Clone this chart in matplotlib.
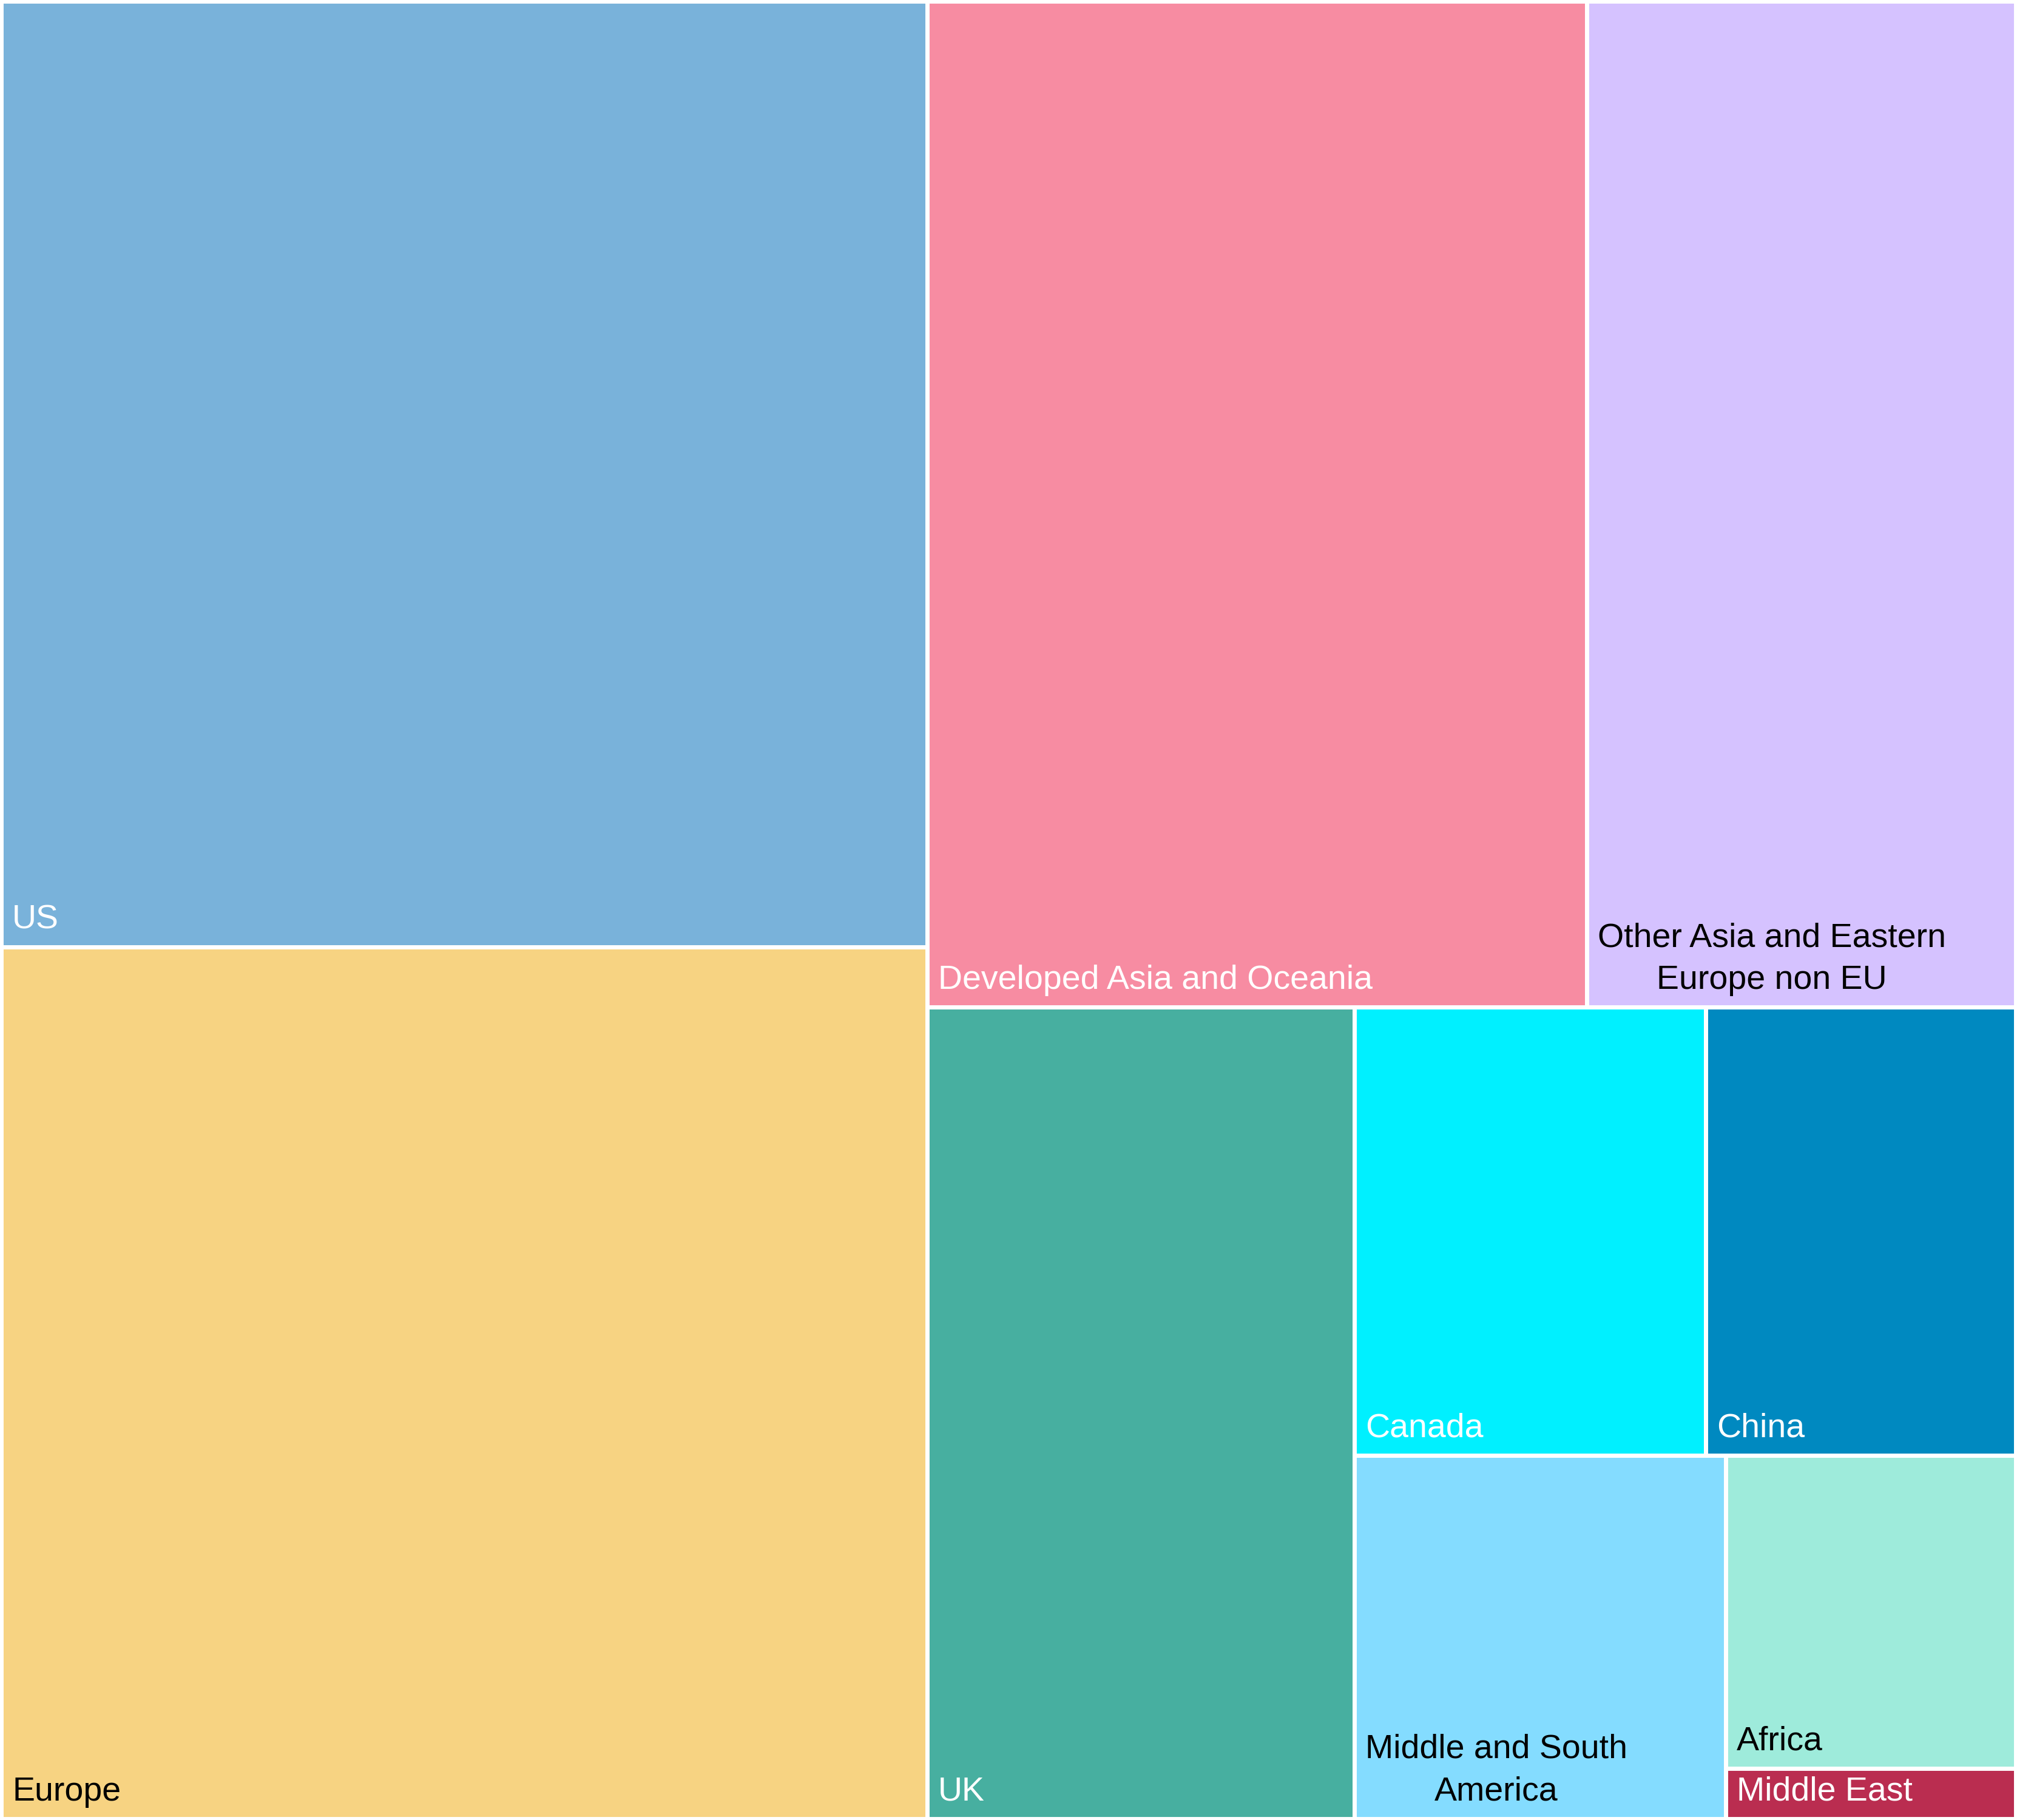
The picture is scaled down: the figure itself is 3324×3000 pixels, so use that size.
import matplotlib
matplotlib.use('Agg')
import matplotlib.pyplot as plt
from matplotlib.patches import Rectangle

# доли регионов, %
regions = ['US', 'Europe', 'Developed Asia and Oceania', 'Other Asia and Eastern\nEurope non EU',
           'UK', 'Canada', 'China', 'Middle and South\nAmerica', 'Africa', 'Middle East']
shares = [23.91, 22.04, 18.13, 11.79, 9.47, 4.30, 3.79, 3.69, 2.48, 0.40]
colors = ['#79b2da', '#f7d382', '#f78ca2', '#d5c2ff', '#47afa0',
          '#00f0ff', '#0089c0', '#84dcff', '#9eebdb', '#ba2d50']
text_colors = ['white', 'black', 'white', 'black', 'white',
               'white', 'white', 'black', 'black', 'white']

W, H = 3324, 3000
PHI = (1 + 5 ** 0.5) / 2


def squarify(values, x0, y0, x1, y1, ratio=PHI):
    # squarify: прямоугольники тянутся вверх (h/w ~ ratio)
    rects = []
    value = float(sum(values))
    n = len(values)
    i0 = i1 = 0
    while i0 < n:
        dx, dy = x1 - x0, y1 - y0
        if dx < dy:
            alpha = (dy / dx) / (value * ratio)
        else:
            alpha = (dx / dy) * ratio / value
        sum_v = values[i1]
        i1 += 1
        min_v = max_v = sum_v
        beta = sum_v * sum_v * alpha
        min_ratio = max(max_v / beta, beta / min_v)
        while i1 < n:
            v = values[i1]
            sum_v += v
            min_v = min(min_v, v)
            max_v = max(max_v, v)
            beta = sum_v * sum_v * alpha
            new_ratio = max(max_v / beta, beta / min_v)
            if new_ratio > min_ratio:
                sum_v -= v
                break
            min_ratio = new_ratio
            i1 += 1
        row = values[i0:i1]
        if dx < dy:
            # ряд сверху
            h = dy * sum_v / value
            cx = x0
            for v in row:
                w = dx * v / sum_v
                rects.append((cx, y0, w, h))
                cx += w
            y0 += h
        else:
            # столбец слева
            w = dx * sum_v / value
            cy = y0
            for v in row:
                h = dy * v / sum_v
                rects.append((x0, cy, w, h))
                cy += h
            x0 += w
        value -= sum_v
        i0 = i1
    return rects


rects = squarify(shares, 0, 0, W, H)

fig = plt.figure(figsize=(W / 100, H / 100), dpi=100)
ax = fig.add_axes([0, 0, 1, 1])
ax.set_xlim(-2, W + 2)
ax.set_ylim(H + 2, -2)
ax.axis('off')

for (x, y, w, h), name, c, tc in zip(rects, regions, colors, text_colors):
    ax.add_patch(Rectangle((x, y), w, h, facecolor=c, edgecolor='white', linewidth=5))
    ax.annotate(name, xy=(x, y + h), xytext=(13, 13), textcoords='offset points',
                ha='left', va='bottom', multialignment='center', linespacing=1.45,
                fontsize=40, color=tc, family=['Liberation Sans', 'DejaVu Sans'])

fig.savefig('out.png', dpi=100)
